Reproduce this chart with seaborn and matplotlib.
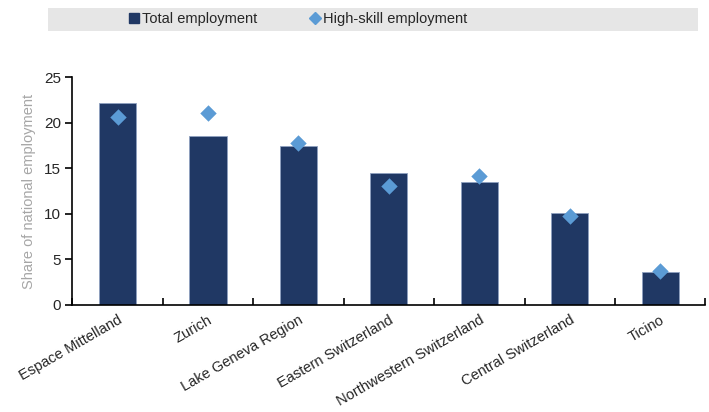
import matplotlib
matplotlib.use("Agg")
import matplotlib.pyplot as plt
import seaborn as sns
import pandas as pd
from matplotlib.patches import Rectangle
from matplotlib.lines import Line2D
from matplotlib.ticker import FixedLocator

regions = ["Espace Mittelland", "Zurich", "Lake Geneva Region", "Eastern Switzerland",
           "Northwestern Switzerland", "Central Switzerland", "Ticino"]
total_employment = [22.1, 18.5, 17.4, 14.5, 13.5, 10.1, 3.6]
high_skill_employment = [20.6, 21.1, 17.8, 13.0, 14.1, 9.8, 3.7]
yticks = [0, 5, 10, 15, 20, 25]

sns.set_theme(style="ticks")
plt.rcParams["font.family"] = ["Liberation Sans", "DejaVu Sans"]

df = pd.DataFrame({"region": regions, "total": total_employment, "high": high_skill_employment})

bar_color = "#203864"
dia_color = "#5B9BD5"

fig = plt.figure(figsize=(7.09, 4.12), dpi=100)
ax = fig.add_axes([0.102, 0.26, 0.893, 0.553])

sns.barplot(data=df, x="region", y="total", color=bar_color, width=0.41,
            edgecolor="#8EA0C0", linewidth=0.6, ax=ax, saturation=1)
ax.scatter(range(len(regions)), df["high"], marker="D", s=70, color=dia_color, zorder=3, linewidths=0)

ax.set_xlim(-0.5, 6.5)
ax.set_ylim(0, 25)
ax.set_yticks(yticks)
ax.set_yticklabels([str(v) for v in yticks], fontsize=11)
ax.set_xlabel("")
ax.set_ylabel("Share of national employment", color="#A6A6A6", fontsize=10.5, labelpad=6)
ax.set_xticks(range(len(regions)))
ax.set_xticklabels(regions, rotation=30, ha="right", rotation_mode="anchor", fontsize=10.5)
ax.tick_params(axis="x", which="major", length=0, pad=6)
ax.xaxis.set_minor_locator(FixedLocator([i + 0.5 for i in range(-1, len(regions))]))
ax.tick_params(axis="x", which="minor", direction="in", length=5, width=1.2, color="black")
ax.tick_params(axis="y", direction="out", length=5, width=1.2, color="black", pad=3)
for s in ["top", "right"]:
    ax.spines[s].set_visible(False)
for s in ["left", "bottom"]:
    ax.spines[s].set_color("black")
    ax.spines[s].set_linewidth(1.2)

# legend band
fig.patches.append(Rectangle((0.068, 0.925), 0.917, 0.055, transform=fig.transFigure,
                             facecolor="#E6E6E6", edgecolor="none", zorder=0))
handles = [Line2D([], [], marker="s", linestyle="none", color=bar_color, markersize=6.5),
           Line2D([], [], marker="D", linestyle="none", color=dia_color, markersize=6.5)]
fig.legend(handles, ["Total employment", "High-skill employment"], ncol=2, frameon=False,
           loc="center", bbox_to_anchor=(0.42, 0.953), fontsize=10.5, handletextpad=0.1,
           columnspacing=3.6, handlelength=0.8)

fig.savefig("out.png", dpi=100)
